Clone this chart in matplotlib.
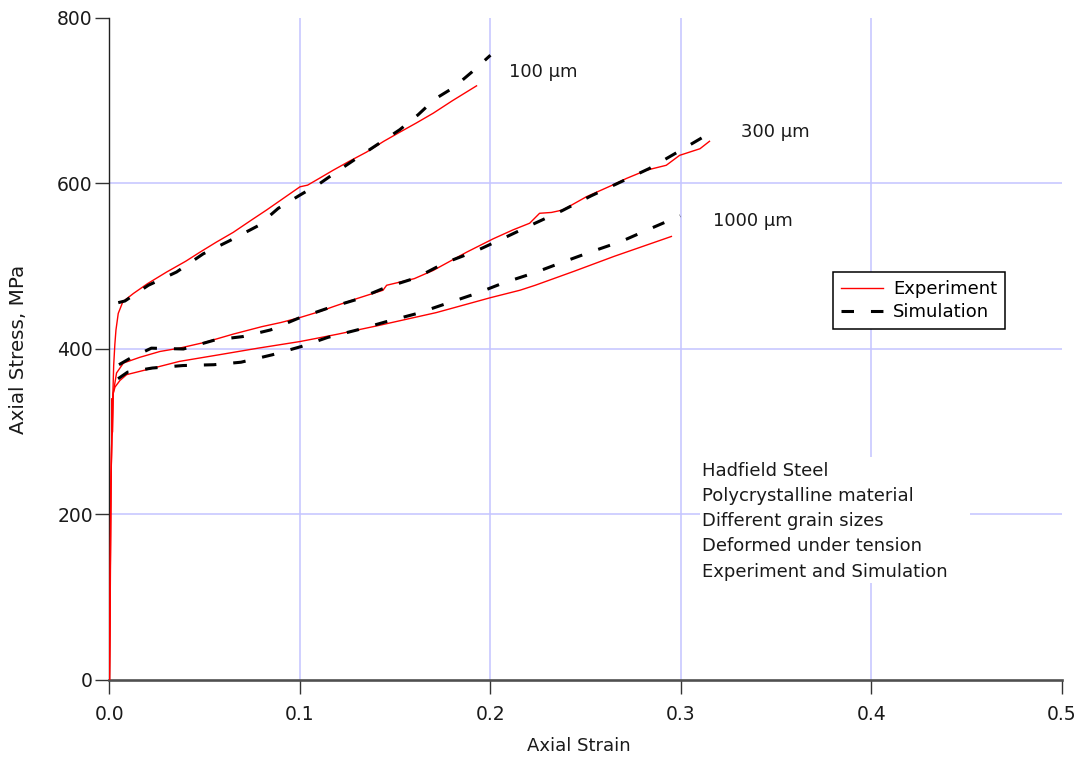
import matplotlib
matplotlib.use("Agg")
import matplotlib.pyplot as plt
from matplotlib.patches import Rectangle

plt.rcParams['font.family'] = ['DejaVu Sans']
plt.rcParams['lines.scale_dashes'] = False

# ---- experimental curves (strain, stress in MPa) ----
exp100_strain = [0.0, 0.0003, 0.0006, 0.0008, 0.0012, 0.0014, 0.0016, 0.0022, 0.0028, 0.0034,
                 0.0046, 0.007, 0.0125, 0.02, 0.03, 0.04, 0.0475, 0.056, 0.065, 0.074,
                 0.0825, 0.09, 0.1, 0.104, 0.11, 0.1174, 0.126, 0.135, 0.144, 0.1524,
                 0.161, 0.17, 0.18, 0.1927]
exp100_stress = [0, 90, 200, 240, 290, 300, 330, 380, 405, 423,
                 443, 457, 467, 479, 493, 506, 517, 529, 541, 555,
                 568, 580, 596, 598, 606, 616, 627, 638, 651, 662,
                 673, 685, 700, 718]

exp300_strain = [0.0, 0.0003, 0.0007, 0.0012, 0.0013, 0.0015, 0.002, 0.0037, 0.0073, 0.016,
                 0.0265, 0.0367, 0.05, 0.065, 0.08, 0.09, 0.1, 0.11, 0.1173, 0.13,
                 0.1436, 0.1455, 0.16, 0.17, 0.1875, 0.2013, 0.2119, 0.2206, 0.2258, 0.232,
                 0.238, 0.2504, 0.264, 0.2713, 0.2818, 0.2923, 0.2993, 0.31, 0.315]
exp300_stress = [0, 85, 230, 290, 340, 300, 347, 371, 383, 390,
                 397, 401, 408, 418, 427, 432, 438, 445, 451, 461,
                 471, 477, 485, 495, 517, 533, 544, 552, 564, 565,
                 568, 584, 598, 606, 616, 622, 634, 642, 651]

exp1000_strain = [0.0, 0.0004, 0.0008, 0.0012, 0.0016, 0.0018, 0.0029, 0.0055, 0.009, 0.016,
                  0.0265, 0.0367, 0.0575, 0.078, 0.1, 0.109, 0.12, 0.1405, 0.1716, 0.2,
                  0.2155, 0.2235, 0.244, 0.265, 0.295]
exp1000_stress = [0, 100, 235, 295, 300, 345, 354, 362, 369, 373,
                  379, 385, 393, 401, 409, 413, 418, 428, 444, 462,
                  471, 477, 494, 512, 536]

# ---- simulated curves ----
sim100_strain = [0.0046, 0.0081, 0.0204, 0.0352, 0.0492, 0.0632, 0.0781, 0.0886, 0.1, 0.1104,
                 0.1204, 0.1314, 0.1419, 0.1524, 0.162, 0.1708, 0.1807, 0.1904, 0.2]
sim100_stress = [456, 458, 477, 493, 515, 531, 549, 570, 586, 600,
                 616, 633, 649, 665, 683, 702, 716, 735, 755]

sim300_strain = [0.005, 0.011, 0.022, 0.0388, 0.0555, 0.07, 0.0845, 0.099, 0.1155, 0.13,
                 0.1446, 0.161, 0.176, 0.192, 0.207, 0.2225, 0.2375, 0.2528, 0.2685, 0.2833,
                 0.2983, 0.3175]
sim300_stress = [381, 389, 401, 400, 411, 415, 423, 437, 450, 460,
                 474, 486, 504, 518, 534, 551, 567, 585, 602, 618,
                 638, 664]

sim1000_strain = [0.0045, 0.0095, 0.0225, 0.0386, 0.0548, 0.069, 0.0855, 0.1007, 0.1146, 0.13,
                  0.1453, 0.1617, 0.177, 0.1925, 0.207, 0.223, 0.238, 0.2535, 0.2687, 0.2845,
                  0.2996]
sim1000_stress = [364, 372, 377, 380, 381, 384, 393, 403, 414, 423,
                  433, 443, 455, 467, 480, 492, 505, 518, 530, 546,
                  561]

grain_labels = ["100 µm", "300 µm", "1000 µm"]
label_strain = [0.2096, 0.3313, 0.3166]
label_stress = [735, 662, 555]

notes = ["Hadfield Steel", "Polycrystalline material", "Different grain sizes",
         "Deformed under tension", "Experiment and Simulation"]

x_ticks = [0.0, 0.1, 0.2, 0.3, 0.4, 0.5]
y_ticks = [0, 200, 400, 600, 800]

fig = plt.figure(figsize=(10.84, 7.59), dpi=100)
ax = fig.add_axes([0.101, 0.1041, 0.8786, 0.8722])
ax.set_xlim(0, 0.5)
ax.set_ylim(0, 800)

grid_c = '#c4c4ff'
for xv in x_ticks[1:-1]:
    ax.axvline(xv, color=grid_c, lw=1.1, zorder=0.5)
for yv in y_ticks[1:-1]:
    ax.axhline(yv, color=grid_c, lw=1.1, zorder=0.5)

# white panel behind the description text
ax.add_patch(Rectangle((0.3098, 117), 0.1422, 152.5, facecolor='white',
                       edgecolor='none', zorder=1))

red = '#ff0000'
ax.plot(exp100_strain, exp100_stress, color=red, lw=1.0, zorder=3, label='Experiment')
ax.plot(exp300_strain, exp300_stress, color=red, lw=1.0, zorder=3)
ax.plot(exp1000_strain, exp1000_stress, color=red, lw=1.0, zorder=3)

dash = (9, 12.2)
ax.plot(sim100_strain, sim100_stress, color='black', lw=2.2, dashes=dash, zorder=4,
        label='Simulation')
ax.plot(sim300_strain, sim300_stress, color='black', lw=2.2, dashes=dash, zorder=4)
ax.plot(sim1000_strain, sim1000_stress, color='black', lw=2.2, dashes=dash, zorder=4)

for txt, sx, sy in zip(grain_labels, label_strain, label_stress):
    ax.text(sx, sy, txt, fontsize=13, ha='left', va='center', color='#1a1a1a', zorder=5)

ax.text(0.3109, 264, "\n".join(notes), fontsize=13, ha='left', va='top',
        color='#1a1a1a', linespacing=1.52, zorder=5)

leg = ax.legend(loc='upper left', bbox_to_anchor=(0.7596, 0.6163), borderaxespad=0,
                fontsize=13, handlelength=2.33, handletextpad=0.55, borderpad=0.45,
                labelspacing=0.28, fancybox=False, framealpha=1, edgecolor='black')
leg.get_frame().set_linewidth(1.1)

ax.set_xticks(x_ticks)
ax.set_xticklabels([f"{v:.1f}" for v in x_ticks])
ax.set_yticks(y_ticks)
ax.set_yticklabels([str(v) for v in y_ticks])
ax.tick_params(axis='both', labelsize=13.5, length=10, width=1.0, color='#333333',
               labelcolor='#1a1a1a', direction='out')
ax.tick_params(axis='y', pad=2)
ax.tick_params(axis='x', pad=8)

ax.spines['top'].set_visible(False)
ax.spines['right'].set_visible(False)
ax.spines['left'].set_color('#202020')
ax.spines['left'].set_linewidth(1.0)
ax.spines['bottom'].set_color('#505050')
ax.spines['bottom'].set_linewidth(1.9)

ax.set_xlabel("Axial Strain", fontsize=13, color='#1a1a1a')
ax.set_ylabel("Axial Stress, MPa", fontsize=14.3, color='#1a1a1a')
ax.xaxis.set_label_coords((579 - 109.5) / 952.5, -0.086)
ax.yaxis.set_label_coords((28 - 109.5) / 952.5, 0.5)

fig.savefig("out.png", dpi=100, facecolor='white')
